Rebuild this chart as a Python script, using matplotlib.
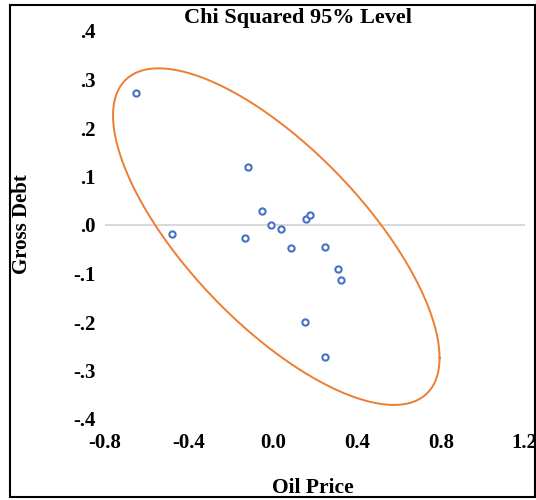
import numpy as np
import matplotlib
matplotlib.use("Agg")
import matplotlib.pyplot as plt
from matplotlib.patches import Rectangle

# scatter points
oil_price = [-0.652, -0.482, -0.118, -0.051, -0.011, 0.038, -0.135, 0.086,
             0.157, 0.178, 0.248, 0.308, 0.325, 0.151, 0.248]
gross_debt = [0.272, -0.019, 0.119, 0.028, 0.000, -0.009, -0.026, -0.047,
              0.013, 0.021, -0.045, -0.091, -0.113, -0.199, -0.273]

# 95% ellipse: centre, half extents along x / y, correlation
ell_center = (0.016, -0.024)
ell_half_x = 0.778
ell_half_y = 0.347
ell_corr = -0.72

x_ticks = [-0.8, -0.4, 0.0, 0.4, 0.8, 1.2]
x_tick_labels = ["-0.8", "-0.4", "0.0", "0.4", "0.8", "1.2"]
y_ticks = [-0.4, -0.3, -0.2, -0.1, 0.0, 0.1, 0.2, 0.3, 0.4]
y_tick_labels = ["-.4", "-.3", "-.2", "-.1", ".0", ".1", ".2", ".3", ".4"]

plt.rcParams['font.family'] = ['Liberation Serif', 'DejaVu Serif']
plt.rcParams['font.weight'] = 'bold'

fig = plt.figure(figsize=(5.36, 5.0), dpi=100)
ax = fig.add_axes([0.196, 0.162, 0.783, 0.776])

ax.axhline(0, color='#D9D9D9', lw=1.5, zorder=1)

t = np.linspace(0, 2 * np.pi, 400)
ex = ell_center[0] + ell_half_x * np.cos(t)
ey = ell_center[1] + ell_half_y * (ell_corr * np.cos(t) + np.sqrt(1 - ell_corr**2) * np.sin(t))
ax.plot(ex, ey, color='#ED7D31', lw=1.4, zorder=2)

ax.plot(oil_price, gross_debt, 'o', ms=4.5, mfc='white', mec='#4472C4', mew=1.5,
        zorder=3, clip_on=False)

ax.set_xlim(-0.8, 1.2)
ax.set_ylim(-0.4, 0.4)
ax.set_xticks(x_ticks)
ax.set_xticklabels(x_tick_labels, fontsize=15, fontweight='bold')
ax.set_yticks(y_ticks)
ax.set_yticklabels(y_tick_labels, fontsize=15, fontweight='bold')
ax.tick_params(length=0)
ax.tick_params(axis='x', pad=10)
ax.tick_params(axis='y', pad=7)
for s in ax.spines.values():
    s.set_visible(False)

fig.text(0.555, 0.964, "Chi Squared 95% Level", ha='center', va='center',
         fontsize=16, fontweight='bold')
fig.text(0.584, 0.024, "Oil Price", ha='center', va='center',
         fontsize=15.5, fontweight='bold')
fig.text(0.041, 0.552, "Gross Debt", ha='center', va='center', rotation=90,
         fontsize=15, fontweight='bold')

fig.patches.append(Rectangle((0.018, 0.006), 0.981, 0.984, transform=fig.transFigure,
                             fill=False, edgecolor='black', lw=1.5))

fig.savefig("out.png", dpi=100)
